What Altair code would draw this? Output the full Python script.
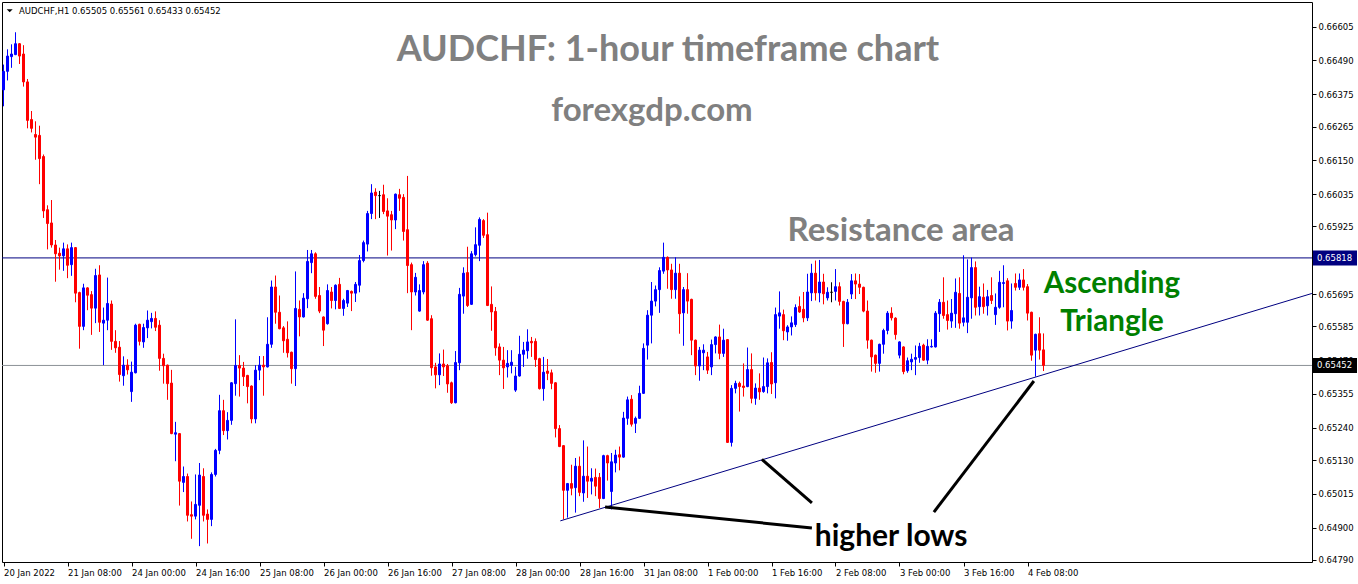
import altair as alt
import pandas as pd

# AUDCHF hourly candles, oldest first (open / high / low / close)
opens = [
    0.66390, 0.66453, 0.66503, 0.66510, 0.66547, 0.66512, 0.66417, 0.66289, 0.66238, 0.66235,
    0.66163, 0.65982, 0.65937, 0.65862, 0.65834, 0.65825, 0.65849, 0.65795, 0.65853, 0.65700,
    0.65585, 0.65716, 0.65693, 0.65647, 0.65760, 0.65596, 0.65606, 0.65661, 0.65534, 0.65514,
    0.65417, 0.65453, 0.65363, 0.65427, 0.65592, 0.65532, 0.65580, 0.65601, 0.65612, 0.65589,
    0.65476, 0.65453, 0.65392, 0.65218, 0.65220, 0.65054, 0.65074, 0.64944, 0.64939, 0.64976,
    0.65074, 0.64946, 0.64928, 0.65081, 0.65163, 0.65298, 0.65230, 0.65265, 0.65390, 0.65452,
    0.65443, 0.65418, 0.65382, 0.65270, 0.65436, 0.65453, 0.65447, 0.65524, 0.65719, 0.65633,
    0.65580, 0.65541, 0.65497, 0.65441, 0.65643, 0.65617, 0.65679, 0.65802, 0.65832, 0.65690,
    0.65617, 0.65594, 0.65702, 0.65673, 0.65728, 0.65646, 0.65664, 0.65704, 0.65698, 0.65725,
    0.65809, 0.65865, 0.65969, 0.66042, 0.66030, 0.66033, 0.65978, 0.65965, 0.65947, 0.66033,
    0.66024, 0.65914, 0.65795, 0.65702, 0.65637, 0.65702, 0.65800, 0.65611, 0.65447, 0.65420,
    0.65457, 0.65451, 0.65393, 0.65325, 0.65461, 0.65688, 0.65768, 0.65660, 0.65829, 0.65861,
    0.65945, 0.65897, 0.65660, 0.65636, 0.65515, 0.65470, 0.65447, 0.65452, 0.65368, 0.65416,
    0.65490, 0.65502, 0.65534, 0.65534, 0.65475, 0.65373, 0.65433, 0.65427, 0.65393, 0.65237,
    0.65179, 0.65027, 0.65050, 0.65036, 0.65109, 0.65018, 0.65075, 0.65058, 0.65071, 0.65071,
    0.64999, 0.65145, 0.65023, 0.65120, 0.65148, 0.65140, 0.65272, 0.65337, 0.65255, 0.65272,
    0.65357, 0.65521, 0.65623, 0.65671, 0.65710, 0.65773, 0.65820, 0.65777, 0.65710, 0.65766,
    0.65631, 0.65710, 0.65677, 0.65538, 0.65450, 0.65495, 0.65481, 0.65447, 0.65523, 0.65549,
    0.65493, 0.65540, 0.65190, 0.65374, 0.65391, 0.65382, 0.65380, 0.65438, 0.65340, 0.65375,
    0.65363, 0.65380, 0.65462, 0.65393, 0.65620, 0.65625, 0.65566, 0.65583, 0.65591, 0.65653,
    0.65643, 0.65614, 0.65699, 0.65766, 0.65699, 0.65736, 0.65682, 0.65701, 0.65704, 0.65720,
    0.65670, 0.65594, 0.65695, 0.65740, 0.65729, 0.65718, 0.65637, 0.65538, 0.65487, 0.65459,
    0.65524, 0.65571, 0.65630, 0.65613, 0.65487, 0.65515, 0.65434, 0.65464, 0.65473, 0.65479,
    0.65521, 0.65470, 0.65515, 0.65515, 0.65628, 0.65667, 0.65625, 0.65603, 0.65628, 0.65697,
    0.65599, 0.65599, 0.65682, 0.65785, 0.65652, 0.65684, 0.65655, 0.65690, 0.65625, 0.65650,
    0.65731, 0.65740, 0.65603, 0.65731, 0.65718, 0.65743, 0.65720, 0.65633, 0.65504, 0.65560,
    0.65505,
]
highs = [
    0.66476, 0.66528, 0.66545, 0.66586, 0.66549, 0.66542, 0.66427, 0.66318, 0.66283, 0.66268,
    0.66170, 0.65997, 0.66015, 0.65879, 0.65853, 0.65870, 0.65864, 0.65870, 0.65855, 0.65703,
    0.65730, 0.65718, 0.65705, 0.65781, 0.65793, 0.65649, 0.65751, 0.65673, 0.65572, 0.65535,
    0.65483, 0.65473, 0.65465, 0.65594, 0.65594, 0.65594, 0.65639, 0.65631, 0.65636, 0.65606,
    0.65492, 0.65455, 0.65437, 0.65260, 0.65222, 0.65108, 0.65084, 0.64989, 0.65081, 0.65120,
    0.65102, 0.64962, 0.65088, 0.65168, 0.65352, 0.65335, 0.65293, 0.65395, 0.65609, 0.65487,
    0.65464, 0.65420, 0.65384, 0.65453, 0.65484, 0.65484, 0.65616, 0.65741, 0.65758, 0.65690,
    0.65586, 0.65602, 0.65499, 0.65772, 0.65673, 0.65698, 0.65845, 0.65845, 0.65837, 0.65719,
    0.65619, 0.65728, 0.65719, 0.65728, 0.65750, 0.65679, 0.65709, 0.65707, 0.65736, 0.65828,
    0.65877, 0.65978, 0.66069, 0.66055, 0.66046, 0.66067, 0.66021, 0.65978, 0.66037, 0.66053,
    0.66035, 0.66097, 0.65802, 0.65767, 0.65728, 0.65807, 0.65807, 0.65623, 0.65461, 0.65493,
    0.65506, 0.65457, 0.65397, 0.65501, 0.65716, 0.65786, 0.65856, 0.65841, 0.65922, 0.65956,
    0.65950, 0.65972, 0.65721, 0.65651, 0.65527, 0.65515, 0.65504, 0.65504, 0.65447, 0.65553,
    0.65532, 0.65575, 0.65549, 0.65544, 0.65478, 0.65481, 0.65474, 0.65438, 0.65395, 0.65249,
    0.65181, 0.65052, 0.65114, 0.65137, 0.65142, 0.65197, 0.65176, 0.65102, 0.65101, 0.65086,
    0.65148, 0.65148, 0.65154, 0.65165, 0.65176, 0.65294, 0.65346, 0.65351, 0.65278, 0.65383,
    0.65527, 0.65640, 0.65736, 0.65724, 0.65786, 0.65870, 0.65823, 0.65798, 0.65820, 0.65798,
    0.65719, 0.65766, 0.65679, 0.65540, 0.65515, 0.65524, 0.65498, 0.65540, 0.65551, 0.65591,
    0.65577, 0.65542, 0.65385, 0.65400, 0.65397, 0.65459, 0.65513, 0.65493, 0.65391, 0.65425,
    0.65479, 0.65476, 0.65497, 0.65649, 0.65704, 0.65642, 0.65589, 0.65619, 0.65660, 0.65687,
    0.65702, 0.65764, 0.65798, 0.65809, 0.65811, 0.65764, 0.65718, 0.65735, 0.65780, 0.65735,
    0.65672, 0.65678, 0.65763, 0.65765, 0.65763, 0.65720, 0.65673, 0.65540, 0.65489, 0.65526,
    0.65577, 0.65637, 0.65650, 0.65616, 0.65534, 0.65517, 0.65479, 0.65492, 0.65520, 0.65529,
    0.65526, 0.65541, 0.65541, 0.65637, 0.65678, 0.65752, 0.65673, 0.65678, 0.65748, 0.65752,
    0.65827, 0.65813, 0.65819, 0.65806, 0.65720, 0.65731, 0.65709, 0.65752, 0.65697, 0.65774,
    0.65793, 0.65749, 0.65731, 0.65765, 0.65765, 0.65780, 0.65729, 0.65635, 0.65560, 0.65616,
    0.65561,
]
lows = [
    0.66334, 0.66422, 0.66465, 0.66508, 0.66478, 0.66401, 0.66259, 0.66245, 0.66152, 0.66069,
    0.65954, 0.65847, 0.65853, 0.65737, 0.65778, 0.65774, 0.65749, 0.65757, 0.65667, 0.65509,
    0.65572, 0.65640, 0.65556, 0.65596, 0.65566, 0.65453, 0.65572, 0.65505, 0.65495, 0.65397,
    0.65383, 0.65421, 0.65328, 0.65425, 0.65520, 0.65512, 0.65545, 0.65578, 0.65569, 0.65434,
    0.65390, 0.65335, 0.65218, 0.65126, 0.64975, 0.65021, 0.64921, 0.64862, 0.64928, 0.64837,
    0.64921, 0.64846, 0.64905, 0.65074, 0.65150, 0.65215, 0.65200, 0.65250, 0.65349, 0.65346,
    0.65382, 0.65323, 0.65255, 0.65255, 0.65402, 0.65349, 0.65445, 0.65512, 0.65594, 0.65575,
    0.65495, 0.65479, 0.65390, 0.65382, 0.65551, 0.65615, 0.65647, 0.65766, 0.65679, 0.65630,
    0.65518, 0.65591, 0.65646, 0.65643, 0.65644, 0.65621, 0.65651, 0.65637, 0.65668, 0.65701,
    0.65803, 0.65840, 0.65950, 0.65950, 0.65954, 0.65967, 0.65826, 0.65843, 0.65916, 0.65978,
    0.65877, 0.65698, 0.65572, 0.65690, 0.65635, 0.65694, 0.65604, 0.65417, 0.65374, 0.65385,
    0.65416, 0.65359, 0.65321, 0.65323, 0.65436, 0.65628, 0.65651, 0.65658, 0.65823, 0.65807,
    0.65886, 0.65654, 0.65570, 0.65485, 0.65419, 0.65372, 0.65411, 0.65425, 0.65362, 0.65414,
    0.65447, 0.65475, 0.65481, 0.65447, 0.65370, 0.65332, 0.65402, 0.65371, 0.65207, 0.65174,
    0.64928, 0.64934, 0.65010, 0.64951, 0.65007, 0.64988, 0.65001, 0.65013, 0.65007, 0.64967,
    0.64997, 0.65060, 0.64962, 0.65088, 0.65095, 0.65138, 0.65250, 0.65244, 0.65222, 0.65270,
    0.65355, 0.65472, 0.65527, 0.65653, 0.65631, 0.65764, 0.65713, 0.65679, 0.65679, 0.65560,
    0.65519, 0.65628, 0.65487, 0.65419, 0.65400, 0.65436, 0.65423, 0.65419, 0.65493, 0.65473,
    0.65481, 0.65188, 0.65176, 0.65357, 0.65295, 0.65346, 0.65378, 0.65323, 0.65318, 0.65335,
    0.65359, 0.65357, 0.65355, 0.65340, 0.65577, 0.65538, 0.65536, 0.65554, 0.65583, 0.65631,
    0.65599, 0.65603, 0.65671, 0.65673, 0.65667, 0.65660, 0.65673, 0.65667, 0.65673, 0.65656,
    0.65515, 0.65592, 0.65678, 0.65678, 0.65695, 0.65633, 0.65509, 0.65431, 0.65427, 0.65431,
    0.65492, 0.65558, 0.65605, 0.65540, 0.65476, 0.65422, 0.65427, 0.65436, 0.65419, 0.65461,
    0.65468, 0.65456, 0.65513, 0.65513, 0.65566, 0.65611, 0.65574, 0.65580, 0.65580, 0.65577,
    0.65585, 0.65562, 0.65611, 0.65622, 0.65622, 0.65628, 0.65622, 0.65661, 0.65590, 0.65645,
    0.65650, 0.65571, 0.65577, 0.65707, 0.65709, 0.65707, 0.65605, 0.65468, 0.65414, 0.65472,
    0.65433,
]
closes = [
    0.66453, 0.66505, 0.66512, 0.66547, 0.66505, 0.66417, 0.66286, 0.66259, 0.66229, 0.66156,
    0.65978, 0.65935, 0.65862, 0.65832, 0.65825, 0.65849, 0.65793, 0.65853, 0.65698, 0.65585,
    0.65716, 0.65691, 0.65647, 0.65758, 0.65599, 0.65606, 0.65663, 0.65534, 0.65512, 0.65421,
    0.65453, 0.65437, 0.65429, 0.65589, 0.65534, 0.65581, 0.65606, 0.65612, 0.65582, 0.65476,
    0.65451, 0.65390, 0.65220, 0.65223, 0.65058, 0.65074, 0.64942, 0.64939, 0.64979, 0.65079,
    0.64942, 0.64928, 0.65081, 0.65163, 0.65298, 0.65230, 0.65265, 0.65393, 0.65452, 0.65443,
    0.65414, 0.65380, 0.65270, 0.65436, 0.65453, 0.65447, 0.65524, 0.65719, 0.65633, 0.65577,
    0.65536, 0.65495, 0.65441, 0.65646, 0.65617, 0.65681, 0.65806, 0.65832, 0.65687, 0.65637,
    0.65572, 0.65707, 0.65673, 0.65725, 0.65646, 0.65673, 0.65707, 0.65698, 0.65728, 0.65809,
    0.65870, 0.65969, 0.66039, 0.66030, 0.66030, 0.65976, 0.65960, 0.65947, 0.66035, 0.66021,
    0.65908, 0.65792, 0.65702, 0.65752, 0.65707, 0.65795, 0.65606, 0.65444, 0.65420, 0.65457,
    0.65447, 0.65389, 0.65325, 0.65462, 0.65694, 0.65766, 0.65656, 0.65832, 0.65863, 0.65949,
    0.65895, 0.65656, 0.65634, 0.65512, 0.65470, 0.65444, 0.65459, 0.65463, 0.65416, 0.65490,
    0.65504, 0.65532, 0.65529, 0.65472, 0.65373, 0.65429, 0.65425, 0.65391, 0.65237, 0.65176,
    0.65027, 0.65050, 0.65034, 0.65109, 0.65020, 0.65075, 0.65058, 0.65068, 0.65041, 0.64999,
    0.65145, 0.65120, 0.65124, 0.65147, 0.65140, 0.65273, 0.65335, 0.65252, 0.65272, 0.65357,
    0.65510, 0.65623, 0.65671, 0.65710, 0.65775, 0.65820, 0.65777, 0.65710, 0.65766, 0.65628,
    0.65710, 0.65671, 0.65538, 0.65450, 0.65504, 0.65504, 0.65436, 0.65523, 0.65549, 0.65493,
    0.65538, 0.65190, 0.65374, 0.65391, 0.65380, 0.65377, 0.65438, 0.65340, 0.65375, 0.65362,
    0.65380, 0.65461, 0.65389, 0.65625, 0.65631, 0.65570, 0.65583, 0.65597, 0.65649, 0.65634,
    0.65614, 0.65702, 0.65766, 0.65699, 0.65736, 0.65696, 0.65701, 0.65701, 0.65720, 0.65670,
    0.65594, 0.65667, 0.65740, 0.65729, 0.65718, 0.65637, 0.65538, 0.65481, 0.65459, 0.65524,
    0.65571, 0.65630, 0.65614, 0.65557, 0.65532, 0.65431, 0.65468, 0.65473, 0.65479, 0.65517,
    0.65470, 0.65517, 0.65517, 0.65630, 0.65667, 0.65622, 0.65605, 0.65630, 0.65701, 0.65596,
    0.65614, 0.65684, 0.65785, 0.65650, 0.65686, 0.65652, 0.65686, 0.65673, 0.65650, 0.65735,
    0.65734, 0.65603, 0.65639, 0.65718, 0.65743, 0.65718, 0.65630, 0.65487, 0.65558, 0.65504,
    0.65452,
]

# time axis: one label every 16 bars
time_labels = [
    "20 Jan 2022", "21 Jan 08:00", "24 Jan 00:00", "24 Jan 16:00", "25 Jan 08:00",
    "26 Jan 00:00", "26 Jan 16:00", "27 Jan 08:00", "28 Jan 00:00", "28 Jan 16:00",
    "31 Jan 08:00", "1 Feb 00:00", "1 Feb 16:00", "2 Feb 08:00", "3 Feb 00:00",
    "3 Feb 16:00", "4 Feb 08:00",
]
label_step = 16

# price scale labels (the one under the resistance tag is left out)
price_ticks = [
    0.66605, 0.66490, 0.66375, 0.66265, 0.66150, 0.66035, 0.65925, 0.65695,
    0.65585, 0.65470, 0.65355, 0.65240, 0.65130, 0.65015, 0.64900, 0.64790,
]

resistance_level = 0.65818
last_close = closes[-1]

# rising support line (bar index, price)
trend_idx = [139.2, 327.1]
trend_price = [0.64923, 0.65697]

# pointer strokes towards the "higher lows" caption
pointer_x = [150.4, 189.6, 257.6]
pointer_y = [0.64970, 0.65132, 0.65399]
pointer_x2 = [202.1, 202.1, 232.6]
pointer_y2 = [0.64899, 0.64984, 0.64953]

candles = pd.DataFrame({
    "idx": list(range(len(closes))),
    "open": opens, "high": highs, "low": lows, "close": closes,
})
candles["dir"] = ["up" if c > o else ("down" if c < o else "flat") for o, c in zip(opens, closes)]

x_scale = alt.Scale(domain=[-0.375, 327.125], nice=False, zero=False)
y_scale = alt.Scale(domain=[0.64783, 0.66689], nice=False, zero=False)

label_js = "[" + ",".join(f"'{t}'" for t in time_labels) + "]"
x_axis = alt.Axis(
    values=[k * label_step for k in range(len(time_labels))],
    labelExpr=f"{label_js}[round(datum.value / {label_step})]",
    title=None, orient="bottom", grid=False, domain=False,
    labelAlign="left", labelBaseline="top", labelPadding=2, tickSize=4,
    labelFont="DejaVu Sans", labelFontSize=8.5, labelColor="#000000", tickColor="#000000",
    labelOverlap=False, labelFlush=False,
)
y_axis = alt.Axis(
    values=price_ticks, format=".5f", title=None, orient="right", grid=False, domain=False,
    labelAlign="left", labelBaseline="middle", labelPadding=2, tickSize=4,
    labelFont="DejaVu Sans", labelFontSize=8.5, labelColor="#000000", tickColor="#000000",
    labelOverlap=False, labelFlush=False,
)


def X(field):
    return alt.X(f"{field}:Q", scale=x_scale, axis=x_axis)


def Y(field):
    return alt.Y(f"{field}:Q", scale=y_scale, axis=y_axis)


dir_scale = alt.Scale(domain=["up", "down", "flat"], range=["#0000ff", "#ff0000", "#000000"])

base = alt.Chart(candles)
wicks = base.mark_rule(strokeWidth=1).encode(
    x=X("idx"), y=Y("low"), y2=alt.Y2("high"),
    color=alt.Color("dir:N", scale=dir_scale, legend=None),
)
bodies = base.mark_rect(xOffset=-1, x2Offset=1, strokeWidth=1).encode(
    x=X("idx"), x2=alt.X2("idx"), y=Y("open"), y2=alt.Y2("close"),
    color=alt.Color("dir:N", scale=dir_scale, legend=None),
    stroke=alt.Stroke("dir:N", scale=dir_scale, legend=None),
)

resistance_rule = alt.Chart(pd.DataFrame({"price": [resistance_level]})).mark_rule(
    color="#000080", strokeWidth=1).encode(y=Y("price"))
last_rule = alt.Chart(pd.DataFrame({"price": [last_close]})).mark_rule(
    color="#8c9196", strokeWidth=1).encode(y=Y("price"))

trend = alt.Chart(pd.DataFrame({"idx": trend_idx, "price": trend_price})).mark_line(
    color="#000080", strokeWidth=1).encode(x=X("idx"), y=Y("price"))

pointers = alt.Chart(pd.DataFrame({
    "x": pointer_x, "y": pointer_y, "x2": pointer_x2, "y2": pointer_y2,
})).mark_rule(color="#000000", strokeWidth=3).encode(
    x=X("x"), y=Y("y"), x2=alt.X2("x2"), y2=alt.Y2("y2"))


def note(text, idx, price, size, color):
    return alt.Chart(pd.DataFrame({"idx": [idx], "price": [price], "t": [text]})).mark_text(
        font="Lato", fontWeight="bold", fontSize=size, color=color,
        align="center", baseline="middle",
    ).encode(x=X("idx"), y=Y("price"), text="t:N")


def banner(text, px, py, size, color):
    return alt.Chart(pd.DataFrame({"t": [text]})).mark_text(
        font="Lato", fontWeight="bold", fontSize=size, color=color,
        align="center", baseline="middle",
    ).encode(x=alt.value(px), y=alt.value(py), text="t:N")


title_txt = banner("AUDCHF: 1-hour timeframe chart", 666, 48, 36, "#808080")
site_txt = banner("forexgdp.com", 650, 109, 33, "#808080")
resist_txt = note("Resistance area", 224.4, 0.65910, 33, "#808080")
asc_txt = note("Ascending", 277.1, 0.65729, 29.5, "#008000")
tri_txt = note("Triangle", 277.1, 0.65600, 29.5, "#008000")
hl_txt = note("higher lows", 221.9, 0.64868, 30, "#000000")

header = alt.Chart(pd.DataFrame({
    "t": [f"AUDCHF,H1  {opens[-1]:.5f} {highs[-1]:.5f} {lows[-1]:.5f} {closes[-1]:.5f}"]
})).mark_text(
    font="DejaVu Sans", fontSize=8.5, color="#000000", align="left", baseline="middle",
).encode(x=alt.value(17), y=alt.value(8.7), text="t:N")
header_arrow = alt.Chart(pd.DataFrame({"t": [0]})).mark_point(
    shape="M-1,-0.5L1,-0.5L0,0.5Z", filled=True, size=36, color="#000000", opacity=1,
).encode(x=alt.value(7.7), y=alt.value(8.8))


def price_tag(price, fill):
    frame = pd.DataFrame({"price": [price], "t": [f"{price:.5f}"]})
    box = alt.Chart(frame).mark_rect(color=fill, yOffset=-7.5, y2Offset=7.5).encode(
        x=alt.value(1311), x2=alt.value(1355), y=Y("price"), y2=alt.Y2("price"))
    txt = alt.Chart(frame).mark_text(
        font="DejaVu Sans", fontSize=8.5, color="#ffffff", align="left", baseline="middle",
    ).encode(x=alt.value(1315), y=Y("price"), text="t:N")
    return [box, txt]


layers = [
    resistance_rule, last_rule, wicks, bodies, trend, pointers,
    title_txt, site_txt, resist_txt, asc_txt, tri_txt, hl_txt,
    header, header_arrow,
] + price_tag(resistance_level, "#000080") + price_tag(last_close, "#000000")

chart = alt.layer(*layers).properties(
    width=1310, height=560,
    padding={"left": 2, "top": 2, "right": 46, "bottom": 22},
    autosize=alt.AutoSizeParams(type="none"),
    background="#ffffff",
).configure_view(stroke="#000000", strokeWidth=1)

chart.save("out.html", embed_options={"renderer": "svg", "actions": False})
